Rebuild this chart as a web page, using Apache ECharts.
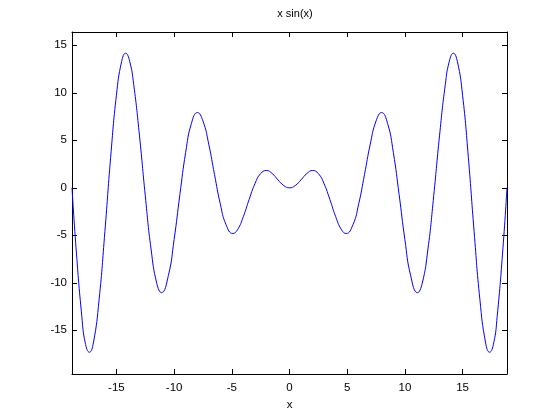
<!DOCTYPE html>
<html><head><meta charset="utf-8">
<script src="https://cdn.jsdelivr.net/npm/echarts@6/dist/echarts.min.js"></script>
<style>html,body{margin:0;padding:0;background:#fff}#c{width:560px;height:420px}</style>
</head><body><div id="c"></div>
<script>
// values (right half; curve is mirror-symmetric)
const xPos = [0,0.5,1,1.5,2,2.5,3,3.5,4,4.5,4.91,5.5,6,6.5,7,7.5,7.98,8.5,9,9.5,10,10.5,11.09,11.5,12,12.5,13,13.5,13.85,14.2,14.55,15,15.5,16,16.5,17,17.34,17.7,18,18.5,18.85];
const yPos = [0,0.24,0.84,1.5,1.82,1.5,0.42,-1.23,-3.03,-4.4,-4.81,-3.88,-1.68,1.4,4.6,7.03,7.92,6.78,3.71,-0.71,-5.44,-9.24,-11.04,-10.07,-6.44,-0.83,5.46,10.85,13.31,14.17,13.28,9.75,3.21,-4.61,-11.75,-16.34,-17.31,-16.32,-13.52,-6.33,0];
const xTicks = [-15,-10,-5,0,5,10,15];
const yTicks = [-15,-10,-5,0,5,10,15];
const titleText = 'x sin(x)';
const xName = 'x';

const pts = [];
for (let i = xPos.length - 1; i > 0; i--) pts.push([-xPos[i], yPos[i]]);
for (let i = 0; i < xPos.length; i++) pts.push([xPos[i], yPos[i]]);

const font = 'Liberation Sans, Arial, sans-serif';
const axLine = {show:true, onZero:false, lineStyle:{color:'#000', width:1}};
function xAx(pos, labels){
  return {type:'value', position:pos, min:-18.85, max:18.85, splitLine:{show:false},
    axisLine:axLine,
    axisTick:{show:true, inside:true, length:5, customValues:xTicks, lineStyle:{color:'#000'}},
    axisLabel:{show:labels, customValues:xTicks, color:'#000', fontSize:11.5, fontFamily:font, margin:8},
    name: labels ? xName : '', nameLocation:'middle', nameGap:25,
    nameTextStyle:{color:'#000', fontSize:11.5, fontFamily:font}};
}
function yAx(pos, labels){
  return {type:'value', position:pos, min:-19.6, max:16.4, splitLine:{show:false},
    axisLine:axLine,
    axisTick:{show:true, inside:true, length:5, customValues:yTicks, lineStyle:{color:'#000'}},
    axisLabel:{show:labels, customValues:yTicks, color:'#000', fontSize:11.5, fontFamily:font, margin:5}};
}
const chart = echarts.init(document.getElementById('c'), null, {renderer:'canvas'});
chart.setOption({
  animation:false,
  backgroundColor:'#fff',
  title:{text:titleText, left:290, top:3, textAlign:'center',
    textStyle:{fontSize:11, fontWeight:'normal', color:'#000', fontFamily:font}},
  grid:{left:72, right:53, top:32, bottom:46},
  xAxis:[xAx('bottom', true), xAx('top', false)],
  yAxis:[yAx('left', true), yAx('right', false)],
  series:[{type:'line', data:pts, smooth:0.5, showSymbol:false,
    lineStyle:{color:'#0000ff', width:1}, clip:true}]
});
</script></body></html>
